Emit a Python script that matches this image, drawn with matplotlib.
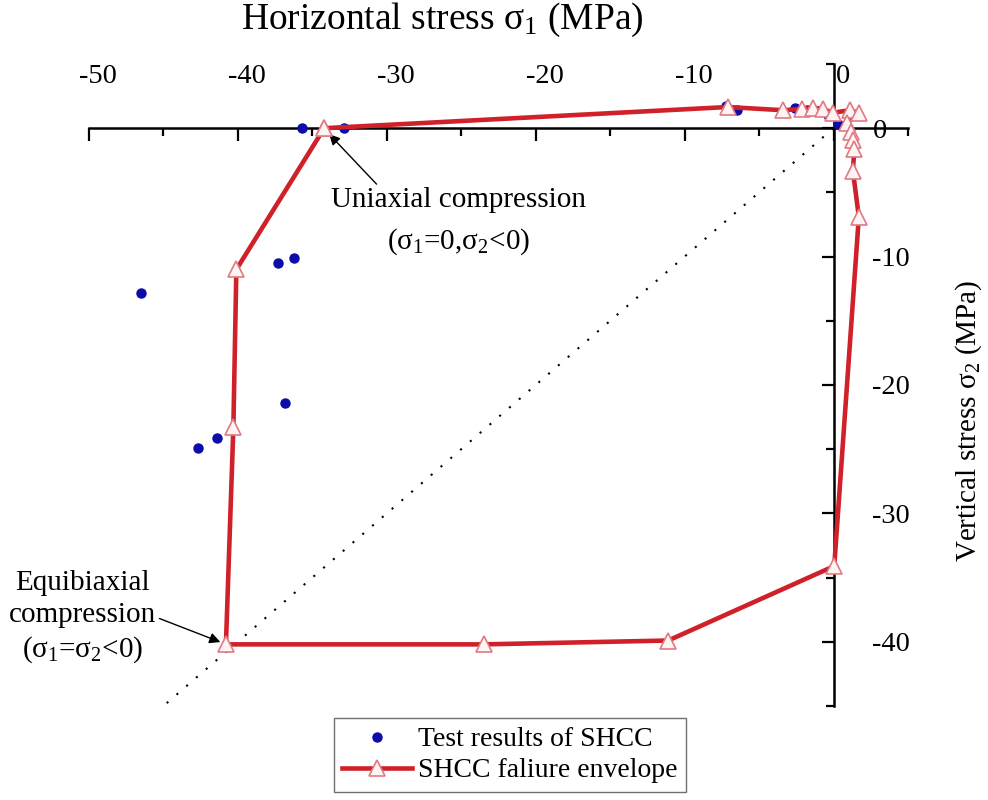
import matplotlib
matplotlib.use("Agg")
import matplotlib.pyplot as plt
from matplotlib.ticker import MultipleLocator
from matplotlib.transforms import ScaledTranslation

plt.rcParams["font.family"] = ["Liberation Serif", "DejaVu Serif"]
plt.rcParams["mathtext.fontset"] = "custom"
plt.rcParams["mathtext.rm"] = "Liberation Serif"
plt.rcParams["mathtext.it"] = "Liberation Serif:italic"
plt.rcParams["axes.unicode_minus"] = False

# Biaxial test results (sigma1, sigma2) in MPa
test_s1 = [-35.7, -32.9, -46.5, -37.3, -36.2, -36.8, -41.4, -42.7,
           -7.2, -6.5, -2.6, -1.8, -0.4, 0.3]
test_s2 = [0.0, 0.0, -12.8, -10.5, -10.1, -21.4, -24.1, -24.9,
           1.7, 1.4, 1.6, 1.4, 1.0, 0.3]

# Failure envelope vertices (sigma1, sigma2) in MPa
env_s1 = [-34.2, -7.1, -3.4, -2.1, -1.4, -0.7, -0.05, 1.1, 1.7, 0.9,
          1.2, 1.3, 1.4, 1.3, 1.7, 0.05, -11.1, -23.5, -40.8, -40.3,
          -40.1, -34.2]
env_s2 = [0.0, 1.65, 1.4, 1.5, 1.6, 1.5, 1.2, 1.4, 1.2, 0.4,
          -0.3, -0.9, -1.6, -3.3, -6.9, -34.1, -39.9, -40.2, -40.2, -23.3,
          -11.0, 0.0]

diag = [0, -45]
x_ticks = [-50, -40, -30, -20, -10, 0]
y_ticks = [-40, -30, -20, -10, 0]

fig = plt.figure(figsize=(9.88, 8.0), dpi=100)
ax = fig.add_axes([0.090, 0.1175, 0.829, 0.8025])
ax.set_xlim(-50, 5)
ax.set_ylim(-45, 5)

# equal-stress diagonal
ax.plot(diag, diag, color="black", lw=1.5, ls=(0, (1, 5.2)), zorder=1)

ax.plot(test_s1, test_s2, ls="none", marker="o", ms=6.5, color="#0c0ca8",
        mec="#0c0ca8", zorder=3, label="Test results of SHCC")
ax.plot(env_s1, env_s2, color="#d0202a", lw=3.3, marker="^", ms=12,
        mfc="#fff4f4", mec="#e07a82", mew=1.2, zorder=4,
        label="SHCC faliure envelope")

# axes crossing at the origin
for side in ("left", "bottom"):
    ax.spines[side].set_visible(False)
ax.spines["top"].set_position(("data", 0))
ax.spines["right"].set_position(("data", 0))
for side in ("top", "right"):
    ax.spines[side].set_linewidth(1.8)
    ax.spines[side].set_zorder(2)
ax.xaxis.set_ticks_position("top")
ax.yaxis.set_ticks_position("right")
ax.xaxis.set_minor_locator(MultipleLocator(5))
ax.yaxis.set_minor_locator(MultipleLocator(5))
ax.set_xticks(x_ticks)
ax.set_yticks(y_ticks)
ax.tick_params(which="major", direction="in", length=9, width=1.6,
               labelsize=20.5, pad=28)
ax.tick_params(which="minor", direction="in", length=5.5, width=1.6)
ax.patch.set_visible(False)

shift = ScaledTranslation(9 / 100, 0, fig.dpi_scale_trans)
for lab in ax.get_xticklabels():
    lab.set_transform(lab.get_transform() + shift)

ax.xaxis.set_label_position("top")
ax.set_xlabel("Horizontal stress σ$_1$ (MPa)", fontsize=27, va="center")
ax.xaxis.set_label_coords(0.431, 1.0685)
ax.yaxis.set_label_position("right")
ax.set_ylabel("Vertical stress σ$_2$ (MPa)", fontsize=21, rotation=90,
              va="center", ha="center")
ax.yaxis.set_label_coords(1.0735, 0.445)

ax.annotate("Uniaxial compression\n(σ$_1$=0,σ$_2$<0)", xy=(-34.0, -0.3),
            xytext=(-25.2, -7.3), fontsize=21, ha="center", va="center",
            linespacing=1.6,
            arrowprops=dict(arrowstyle="-|>", color="black", lw=1.0,
                            mutation_scale=16, shrinkA=0, shrinkB=2,
                            relpos=(0.19, 1.0)))
ax.annotate("Equibiaxial\ncompression\n(σ$_1$=σ$_2$<0)", xy=(-41.0, -40.1),
            xytext=(-50.4, -38.1), fontsize=21, ha="center", va="center",
            linespacing=1.3,
            arrowprops=dict(arrowstyle="-|>", color="black", lw=1.0,
                            mutation_scale=16, shrinkA=0, shrinkB=2,
                            relpos=(1.0, 0.5)))

h, l = ax.get_legend_handles_labels()
fig.legend(h, l, loc="center", bbox_to_anchor=(510 / 988, 1 - 755 / 800),
           fontsize=20, frameon=True, fancybox=False, edgecolor="#707070",
           framealpha=1, handlelength=2.5, handletextpad=0.25,
           borderpad=0.3, labelspacing=0.2, borderaxespad=0)

fig.savefig("out.png", dpi=100)
